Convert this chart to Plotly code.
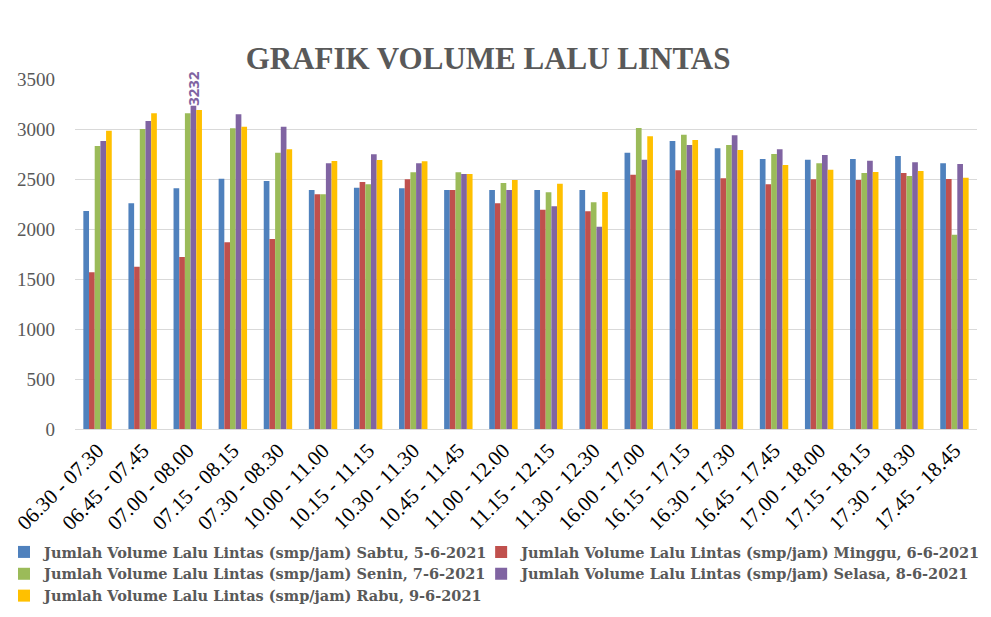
import plotly.graph_objects as go

categories = ["06.30 - 07.30", "06.45 - 07.45", "07.00 - 08.00", "07.15 - 08.15", "07.30 - 08.30",
              "10.00 - 11.00", "10.15 - 11.15", "10.30 - 11.30", "10.45 - 11.45", "11.00 - 12.00",
              "11.15 - 12.15", "11.30 - 12.30", "16.00 - 17.00", "16.15 - 17.15", "16.30 - 17.30",
              "16.45 - 17.45", "17.00 - 18.00", "17.15 - 18.15", "17.30 - 18.30", "17.45 - 18.45"]

sabtu = [2180, 2257, 2407, 2503, 2480, 2390, 2413, 2407, 2390, 2390,
         2390, 2390, 2763, 2880, 2807, 2700, 2693, 2700, 2730, 2657]
minggu = [1567, 1623, 1720, 1867, 1900, 2347, 2470, 2497, 2390, 2257,
          2193, 2177, 2543, 2587, 2507, 2447, 2497, 2490, 2560, 2500]
senin = [2830, 3000, 3157, 3007, 2763, 2347, 2447, 2567, 2567, 2460,
         2367, 2267, 3010, 2943, 2840, 2750, 2657, 2560, 2530, 1943]
selasa = [2880, 3080, 3232, 3147, 3023, 2657, 2747, 2657, 2550, 2390,
          2227, 2023, 2693, 2840, 2937, 2797, 2740, 2683, 2667, 2650]
rabu = [2983, 3157, 3190, 3023, 2797, 2680, 2690, 2677, 2550, 2490,
        2453, 2370, 2927, 2890, 2790, 2640, 2593, 2570, 2580, 2513]

series_names = [
    "Jumlah Volume Lalu Lintas (smp/jam) Sabtu, 5-6-2021",
    "Jumlah Volume Lalu Lintas (smp/jam) Minggu, 6-6-2021",
    "Jumlah Volume Lalu Lintas (smp/jam) Senin, 7-6-2021",
    "Jumlah Volume Lalu Lintas (smp/jam) Selasa, 8-6-2021",
    "Jumlah Volume Lalu Lintas (smp/jam) Rabu, 9-6-2021",
]
series_values = [sabtu, minggu, senin, selasa, rabu]
colors = ["#4F81BD", "#C0504D", "#9BBB59", "#8064A2", "#FFC000"]
legend_slots = ["legend", "legend2", "legend", "legend2", "legend"]

# data label only shown on the peak value of Selasa
peak_index = 2

SERIF = "Liberation Serif"
LEGEND_FONT = "DejaVu Serif"

fig = go.Figure()
for name, vals, col, lg in zip(series_names, series_values, colors, legend_slots):
    kw = {}
    if vals is selasa:
        texts = ["" for _ in vals]
        texts[peak_index] = "<b>" + str(vals[peak_index]) + "</b>"
        kw = dict(text=texts, textposition="outside", textangle=-90,
                  constraintext="none",
                  textfont=dict(family="Open Sans", size=15, color="#8064A2"),
                  cliponaxis=False)
    fig.add_trace(go.Bar(x=categories, y=vals, name="<b>" + name + "</b>", legend=lg,
                         marker=dict(color=col, line=dict(width=0)), **kw))

legend_common = dict(orientation="v", xref="paper", yref="paper",
                     xanchor="left", yanchor="top", traceorder="normal",
                     font=dict(family=LEGEND_FONT, size=14.5, color="#595959"),
                     itemwidth=30, tracegroupgap=0, bgcolor="rgba(0,0,0,0)")

# plot area: x 72..987 (915 px), y 79..429 (350 px)
fig.update_layout(
    width=991, height=617,
    barmode="group", bargap=0.37, bargroupgap=0,
    plot_bgcolor="white", paper_bgcolor="white",
    margin=dict(l=72, r=4, t=79, b=188),
    title=dict(text="<b>GRAFIK VOLUME LALU LINTAS</b>", x=0.4925, xanchor="center",
               y=0.906, yanchor="middle",
               font=dict(family=SERIF, size=31, color="#595959")),
    font=dict(family=SERIF),
    yaxis=dict(range=[0, 3500], dtick=500, showgrid=True, gridcolor="#D9D9D9", gridwidth=1,
               zeroline=False, showline=False, ticks="", ticklabelstandoff=19,
               tickfont=dict(family=SERIF, size=19, color="#595959")),
    xaxis=dict(showline=True, linecolor="#D9D9D9", linewidth=1, ticks="",
               tickangle=-45,
               tickfont=dict(family=SERIF, size=21, color="black")),
    legend=dict(x=-72 / 915, y=-(536 - 429) / 350, **legend_common),
    legend2=dict(x=(484 - 72) / 915, y=-(536 - 429) / 350, **legend_common),
    showlegend=True,
)

fig.write_html("out.html", config={"displayModeBar": False},
               post_script="document.body.style.margin='0px';")
